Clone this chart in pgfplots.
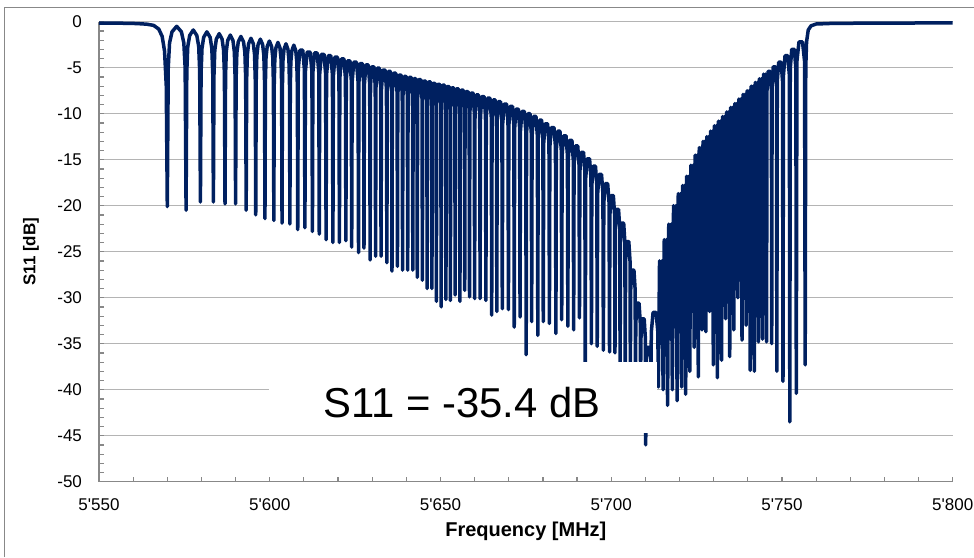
\documentclass[border=0pt]{standalone}
\usepackage{fontspec}
\setmainfont{Liberation Sans}
\usepackage{pgfplots}
\pgfplotsset{compat=1.18}
\usepackage{pgfplotstable}

\definecolor{curve}{HTML}{002060}
\definecolor{gridc}{HTML}{B4B4B4}
\definecolor{axisc}{HTML}{888888}

% S11 sweep (MHz, dB)
\pgfplotstableread{
f s
5550 -0.15
5556 -0.16
5561 -0.2
5564 -0.27
5566 -0.4
5567.5 -0.8
5568.5 -1.6
5569.2 -3.2
5569.7 -7.0
5570.0 -20.1
5570.28 -5.0
5570.66 -2.3
5571.38 -1.1
5572.75 -0.5
5574.13 -1.1
5574.84 -2.3
5575.23 -5.0
5575.5 -20.5
5575.71 -5.4
5576.00 -2.7
5576.55 -1.5
5577.60 -0.9
5578.65 -1.5
5579.20 -2.7
5579.49 -5.4
5579.7 -19.6
5579.89 -5.6
5580.16 -2.9
5580.65 -1.7
5581.60 -1.1
5582.55 -1.7
5583.04 -2.9
5583.31 -5.6
5583.5 -19.6
5583.67 -5.8
5583.91 -3.1
5584.35 -1.9
5585.20 -1.3
5586.05 -1.9
5586.49 -3.1
5586.73 -5.8
5586.9 -19.8
5587.06 -5.95
5587.27 -3.25
5587.68 -2.05
5588.45 -1.45
5589.23 -2.05
5589.63 -3.25
5589.85 -5.95
5590.0 -19.8
5590.16 -6.1
5590.37 -3.4
5590.78 -2.2
5591.55 -1.6
5592.33 -2.2
5592.73 -3.4
5592.95 -6.1
5593.1 -20.5
5593.24 -6.3
5593.44 -3.6
5593.80 -2.4
5594.50 -1.8
5595.20 -2.4
5595.56 -3.6
5595.76 -6.3
5595.9 -21.0
5596.04 -6.4
5596.22 -3.7
5596.58 -2.5
5597.25 -1.9
5597.93 -2.5
5598.28 -3.7
5598.47 -6.4
5598.6 -21.4
5598.73 -6.6
5598.91 -3.9
5599.25 -2.7
5599.90 -2.1
5600.55 -2.7
5600.89 -3.9
5601.07 -6.6
5601.2 -21.6
5601.32 -6.75
5601.49 -4.05
5601.80 -2.85
5602.40 -2.25
5603.00 -2.85
5603.31 -4.05
5603.48 -6.75
5603.6 -21.9
5603.72 -6.9
5603.88 -4.2
5604.18 -3.0
5604.75 -2.4
5605.33 -3.0
5605.62 -4.2
5605.79 -6.9
5605.9 -22.0
5606.02 -7.05
5606.18 -4.35
5606.48 -3.15
5607.05 -2.55
5607.63 -3.15
5607.92 -4.35
5608.09 -7.05
5608.2 -22.6
5608.35 -5.2
5608.83 -3.1
5609.67 -3.1
5610.15 -5.2
5610.3 -22.4
5610.45 -5.4
5610.96 -3.3
5611.84 -3.3
5612.35 -5.4
5612.5 -22.8
5612.64 -5.5
5613.10 -3.4
5613.90 -3.4
5614.36 -5.5
5614.5 -23.1
5614.64 -5.65
5615.10 -3.55
5615.90 -3.55
5616.36 -5.65
5616.5 -23.7
5616.64 -5.8
5617.10 -3.7
5617.90 -3.7
5618.36 -5.8
5618.5 -24.0
5618.63 -5.95
5619.07 -3.85
5619.83 -3.85
5620.27 -5.95
5620.4 -24.0
5620.53 -6.15
5620.97 -4.05
5621.73 -4.05
5622.17 -6.15
5622.3 -23.8
5622.42 -6.35
5622.81 -4.25
5623.49 -4.25
5623.88 -6.35
5624.0 -24.5
5624.14 -6.5
5624.60 -4.4
5625.40 -4.4
5625.86 -6.5
5626.0 -25.1
5626.11 -6.65
5626.48 -4.55
5627.12 -4.55
5627.49 -6.65
5627.6 -24.6
5627.73 -6.8
5628.14 -4.7
5628.86 -4.7
5629.27 -6.8
5629.4 -25.9
5629.51 -7.0
5629.88 -4.9
5630.52 -4.9
5630.89 -7.0
5631.0 -25.5
5631.11 -7.15
5631.48 -5.05
5632.12 -5.05
5632.49 -7.15
5632.6 -25.5
5632.72 -7.35
5633.11 -5.25
5633.79 -5.25
5634.18 -7.35
5634.3 -26.2
5634.41 -7.5
5634.75 -5.4
5635.35 -5.4
5635.70 -7.5
5635.8 -27.1
5635.91 -7.7
5636.28 -5.6
5636.92 -5.6
5637.29 -7.7
5637.4 -26.6
5637.51 -7.9
5637.85 -5.8
5638.45 -5.8
5638.80 -7.9
5638.9 -27.0
5639.01 -8.05
5639.35 -5.95
5639.95 -5.95
5640.30 -8.05
5640.4 -27.0
5640.51 -8.15
5640.85 -6.05
5641.45 -6.05
5641.80 -8.15
5641.9 -27.0
5641.99 -8.3
5642.29 -6.2
5642.81 -6.2
5643.11 -8.3
5643.2 -27.8
5643.31 -8.4
5643.65 -6.3
5644.25 -6.3
5644.60 -8.4
5644.7 -28.1
5644.80 -8.55
5645.12 -6.45
5645.68 -6.45
5646.00 -8.55
5646.1 -29.0
5646.20 -8.65
5646.52 -6.55
5647.08 -6.55
5647.40 -8.65
5647.5 -29.0
5647.59 -8.8
5647.89 -6.7
5648.41 -6.7
5648.71 -8.8
5648.8 -30.4
5648.90 -8.9
5649.22 -6.8
5649.78 -6.8
5650.10 -8.9
5650.2 -31.0
5650.30 -9.0
5650.62 -6.9
5651.18 -6.9
5651.50 -9.0
5651.6 -30.2
5651.69 -9.15
5651.99 -7.05
5652.51 -7.05
5652.81 -9.15
5652.9 -30.3
5653.00 -9.3
5653.32 -7.2
5653.88 -7.2
5654.20 -9.3
5654.3 -29.7
5654.40 -9.4
5654.72 -7.3
5655.28 -7.3
5655.60 -9.4
5655.7 -30.4
5655.80 -9.55
5656.12 -7.45
5656.68 -7.45
5657.00 -9.55
5657.1 -29.2
5657.20 -9.7
5657.52 -7.6
5658.08 -7.6
5658.40 -9.7
5658.5 -29.9
5658.61 -9.85
5658.95 -7.75
5659.55 -7.75
5659.90 -9.85
5660.0 -30.1
5660.11 -10.05
5660.48 -7.95
5661.12 -7.95
5661.49 -10.05
5661.6 -30.1
5661.72 -10.25
5662.11 -8.15
5662.79 -8.15
5663.18 -10.25
5663.3 -30.3
5663.42 -10.4
5663.81 -8.3
5664.49 -8.3
5664.88 -10.4
5665.0 -31.9
5665.11 -10.6
5665.45 -8.5
5666.05 -8.5
5666.40 -10.6
5666.5 -31.5
5666.61 -10.8
5666.98 -8.7
5667.62 -8.7
5667.99 -10.8
5668.1 -31.2
5668.23 -11.05
5668.64 -8.95
5669.36 -8.95
5669.77 -11.05
5669.9 -31.3
5670.02 -11.3
5670.41 -9.2
5671.09 -9.2
5671.48 -11.3
5671.6 -33.2
5671.72 -11.6
5672.11 -9.5
5672.79 -9.5
5673.18 -11.6
5673.3 -32.1
5673.43 -11.85
5673.84 -9.75
5674.56 -9.75
5674.97 -11.85
5675.1 -36.2
5675.21 -12.1
5675.58 -10.0
5676.22 -10.0
5676.59 -12.1
5676.7 -32.6
5676.83 -12.4
5677.24 -10.3
5677.96 -10.3
5678.37 -12.4
5678.5 -34.1
5678.61 -12.8
5678.98 -10.7
5679.62 -10.7
5679.99 -12.8
5680.1 -32.6
5680.23 -13.2
5680.64 -11.1
5681.36 -11.1
5681.77 -13.2
5681.9 -32.8
5682.03 -13.6
5682.47 -11.5
5683.23 -11.5
5683.67 -13.6
5683.8 -33.9
5683.92 -14.0
5684.31 -11.9
5684.99 -11.9
5685.38 -14.0
5685.5 -32.4
5685.63 -14.5
5686.04 -12.4
5686.76 -12.4
5687.17 -14.5
5687.3 -33.1
5687.42 -15.0
5687.81 -12.9
5688.49 -12.9
5688.88 -15.0
5689.0 -33.5
5689.12 -15.6
5689.51 -13.5
5690.19 -13.5
5690.58 -15.6
5690.7 -32.2
5690.82 -16.3
5691.21 -14.2
5691.89 -14.2
5692.28 -16.3
5692.4 -38.5
5692.53 -17.0
5692.94 -14.9
5693.66 -14.9
5694.07 -17.0
5694.2 -35.0
5694.32 -17.8
5694.71 -15.7
5695.39 -15.7
5695.78 -17.8
5695.9 -35.3
5696.03 -18.7
5696.44 -16.6
5697.16 -16.6
5697.57 -18.7
5697.7 -35.7
5697.83 -19.7
5698.24 -17.6
5698.96 -17.6
5699.37 -19.7
5699.5 -35.9
5699.61 -21.0
5699.98 -18.9
5700.62 -18.9
5700.99 -21.0
5701.1 -36.0
5701.21 -22.5
5701.55 -20.4
5702.15 -20.4
5702.50 -22.5
5702.6 -38.5
5702.71 -24.0
5703.05 -21.9
5703.65 -21.9
5704.00 -24.0
5704.1 -38.5
5704.21 -26.0
5704.55 -23.9
5705.15 -23.9
5705.50 -26.0
5705.6 -38.5
5705.71 -29.1
5706.05 -27.0
5706.65 -27.0
5707.00 -29.1
5707.1 -38.5
5707.21 -32.7
5707.55 -30.6
5708.15 -30.6
5708.50 -32.7
5708.6 -38.5
5708.71 -34.4
5709.05 -32.3
5709.65 -32.3
5710.00 -34.4
5710.1 -46.0
5710.21 -36.6
5710.55 -35.4
5711.15 -35.4
5711.50 -36.6
5711.6 -38.5
5711.75 -33.7
5712.26 -31.6
5713.14 -31.6
5713.65 -33.7
5713.8 -39.7
5714.15 -26.0
5714.5 -30.5
5714.85 -26.0
5715.2 -40.0
5715.53 -23.7
5715.85 -29.0
5716.18 -23.7
5716.5 -41.7
5716.85 -22.0
5717.2 -27.0
5717.55 -22.0
5717.9 -40.0
5718.25 -20.0
5718.6 -26.0
5718.95 -20.0
5719.3 -41.2
5719.63 -18.7
5719.95 -25.0
5720.28 -18.7
5720.6 -39.7
5720.9 -17.8
5721.2 -27.0
5721.5 -17.8
5721.8 -40.5
5722.1 -16.8
5722.4 -24.0
5722.7 -16.8
5723.0 -38.0
5723.33 -15.6
5723.65 -26.0
5723.98 -15.6
5724.3 -35.4
5724.6 -14.5
5724.9 -23.0
5725.2 -14.5
5725.5 -38.6
5725.78 -13.7
5726.05 -27.0
5726.33 -13.7
5726.6 -33.5
5726.88 -13.0
5727.15 -29.0
5727.43 -13.0
5727.7 -33.7
5727.98 -12.5
5728.25 -26.0
5728.53 -12.5
5728.8 -31.5
5729.08 -11.9
5729.35 -30.0
5729.63 -11.9
5729.9 -37.3
5730.2 -11.3
5730.5 -28.0
5730.8 -11.3
5731.1 -38.7
5731.4 -10.8
5731.7 -31.0
5732.0 -10.8
5732.3 -36.8
5732.6 -10.3
5732.9 -27.0
5733.2 -10.3
5733.5 -32.3
5733.8 -9.8
5734.1 -30.0
5734.4 -9.8
5734.7 -36.4
5735.0 -9.3
5735.3 -26.0
5735.6 -9.3
5735.9 -33.5
5736.2 -8.9
5736.5 -29.0
5736.8 -8.9
5737.1 -30.0
5737.4 -8.4
5737.7 -27.0
5738.0 -8.4
5738.3 -34.6
5738.6 -7.9
5738.9 -25.0
5739.2 -7.9
5739.5 -33.0
5739.8 -7.5
5740.1 -22.0
5740.4 -7.5
5740.7 -37.9
5741.0 -7.0
5741.3 -18.0
5741.6 -7.0
5741.9 -38.0
5742.2 -6.6
5742.5 -15.0
5742.8 -6.6
5743.1 -34.8
5743.4 -6.2
5743.7 -13.0
5744.0 -6.2
5744.3 -34.5
5744.6 -5.7
5744.9 -12.0
5745.2 -5.7
5745.5 -34.8
5745.61 -7.5
5745.95 -5.4
5746.55 -5.4
5746.90 -7.5
5747.0 -35.0
5747.11 -7.0
5747.45 -4.9
5748.05 -4.9
5748.40 -7.0
5748.5 -38.0
5748.63 -6.5
5749.04 -4.4
5749.76 -4.4
5750.17 -6.5
5750.3 -39.1
5750.44 -5.8
5750.90 -3.7
5751.70 -3.7
5752.16 -5.8
5752.3 -43.5
5752.43 -5.1
5752.87 -3.0
5753.63 -3.0
5754.07 -5.1
5754.2 -40.4
5754.38 -4.3
5754.98 -2.2
5756.02 -2.2
5756.62 -4.3
5756.8 -37.3
5756.97 -5.0
5757.2 -2.2
5757.7 -0.9
5758.5 -0.45
5760 -0.25
5765 -0.18
5780 -0.15
5800 -0.13
}\sdata

\begin{document}
\begin{tikzpicture}
\useasboundingbox (0,0) rectangle (487pt,278.5pt);
% frame of the slide picture
\draw[axisc, line width=0.7pt] (2.15pt,0) -- (2.15pt,274.85pt) -- (487pt,274.85pt);
\begin{axis}[
    at={(49.5pt,37.65pt)}, anchor=south west,
    scale only axis,
    width=426.85pt, height=230pt,
    xmin=5550, xmax=5800, ymin=-50, ymax=0,
    clip mode=individual,
    axis lines*=left,
    axis line style={axisc, line width=0.75pt},
    xtick={5550,5600,...,5800},
    xticklabels={5\textquotesingle550,5\textquotesingle600,5\textquotesingle650,5\textquotesingle700,5\textquotesingle750,5\textquotesingle800},
    minor x tick num=4,
    ytick={-50,-45,...,0},
    yticklabels={-50,-45,-40,-35,-30,-25,-20,-15,-10,-5,0},
    minor y tick num=4,
    tick align=inside,
    tick style={axisc, line width=0.6pt},
    major tick length=2.3pt, minor tick length=2.3pt,
    ymajorgrids,
    grid style={gridc, line width=0.75pt},
    ticklabel style={font=\fontsize{8.5}{10}\selectfont},
    xticklabel style={yshift=-5pt},
    yticklabel style={xshift=-5pt},
]
\addplot[curve, line width=1.75pt, line join=round, mark=none] table[x=f, y=s] {\sdata};

% white text box over the plot, as in the original
\fill[white] (axis cs:5599.8,-44.75) rectangle (axis cs:5713.4,-37.0);
\node[font=\fontsize{20.9}{25}\selectfont] at (axis cs:5656.3,-41.4) {S11 = -35.4 dB};

\node[rotate=90, font=\bfseries\fontsize{8.5}{10}\selectfont] at ([xshift=-34pt]rel axis cs:0,0.5) {S11 [dB]};
\node[font=\bfseries\fontsize{10}{12}\selectfont] at ([yshift=-24.65pt]rel axis cs:0.5,0) {Frequency [MHz]};
\end{axis}
\end{tikzpicture}
\end{document}
